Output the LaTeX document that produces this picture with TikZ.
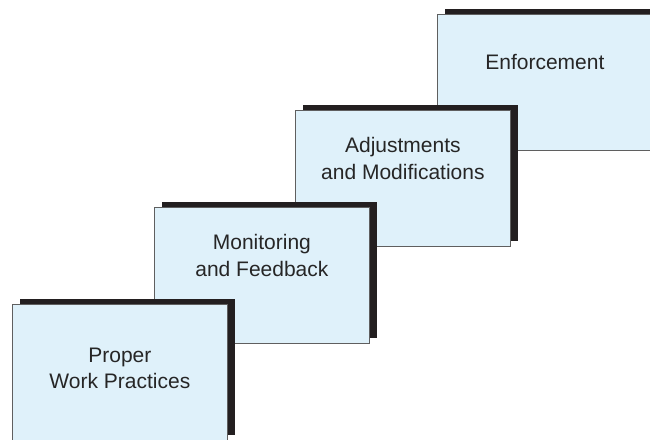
\documentclass[tikz,border=0pt]{standalone}
\usepackage{fontspec}
\setmainfont{Liberation Sans}
\definecolor{boxblue}{RGB}{223, 241, 250}
\definecolor{shadowblack}{RGB}{35, 31, 32}
\definecolor{edgegray}{RGB}{95, 95, 95}
\usetikzlibrary{shadows, positioning}

\begin{document}
\begin{tikzpicture}[x=1pt, y=1pt,
    stair/.style={draw=edgegray, line width=0.8pt, fill=boxblue, anchor=north west, minimum width=215pt, minimum height=136pt, inner sep=0pt,
      drop shadow={shadow xshift=8pt, shadow yshift=5pt, fill=shadowblack, opacity=1}},
    stairtext/.style={align=center, anchor=base, inner sep=0pt, font=\fontsize{21}{26.5}\selectfont, text=black!85}]
  \useasboundingbox (0, 0) rectangle (650, 439);

  % Top step
  \node[stair] (enforcement) at (437, 425) {};
  \node[stairtext] (enforcementtext) at ([yshift=-56pt]enforcement.north) {Enforcement};

  % Third step
  \node[stair] (adjustments) at (295, 329) {};
  \node[stairtext] (adjustmentstext) at ([yshift=-69.5pt]adjustments.north) {Adjustments\\and Modifications};

  % Second step
  \node[stair] (monitoring) at (154, 232) {};
  \node[stairtext] (monitoringtext) at ([yshift=-69.5pt]monitoring.north) {Monitoring\\and Feedback};

  % Bottom step
  \node[stair] (practices) at (12, 135) {};
  \node[stairtext] (practicestext) at ([yshift=-84.5pt]practices.north) {Proper\\Work Practices};
\end{tikzpicture}
\end{document}
